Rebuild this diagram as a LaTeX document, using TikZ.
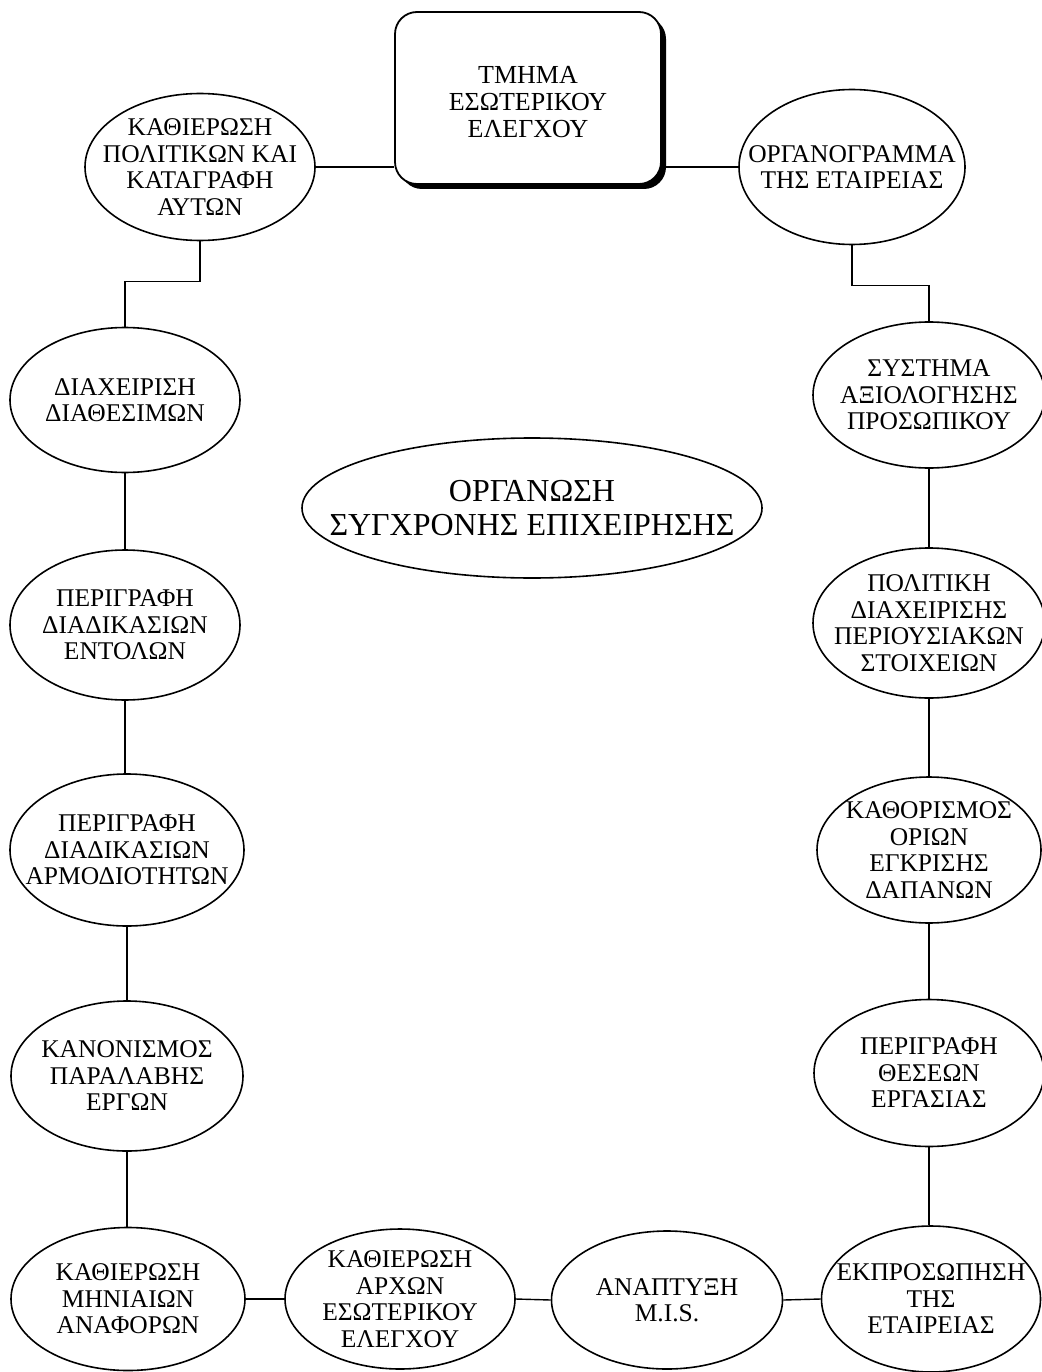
\documentclass[tikz,border=0pt]{standalone}
\usepackage{fontspec}
\setmainfont{Liberation Serif}
\usetikzlibrary{shapes.geometric}
\begin{document}
\begin{tikzpicture}[x=1pt,y=-1pt,
  oval/.style={ellipse, draw, line width=1.6pt, inner sep=-100pt, align=center,
    font=\fontsize{25.5}{26.5}\selectfont},
  link/.style={line width=1.4pt},
  boxtext/.style={align=center, font=\fontsize{26}{27}\selectfont},
  topbox/.style={rectangle, rounded corners=22pt, draw, line width=1.8pt, fill=white,
    minimum width=266pt, minimum height=172pt, inner sep=0pt}]
\fill[white] (0,0) rectangle (1041,1372);
\useasboundingbox (0,0) rectangle (1041,1372);

% shadow of the top box
\fill[black, rounded corners=22pt] (400,17) rectangle (666,189);
\node[topbox, label={[boxtext, yshift=-4pt]center:ΤΜΗΜΑ\\ΕΣΩΤΕΡΙΚΟΥ\\ΕΛΕΓΧΟΥ}] (box) at (528,98) {};

% left column
\node[oval, minimum width=230pt, minimum height=147pt] (e1) at (200,167) {ΚΑΘΙΕΡΩΣΗ\\ΠΟΛΙΤΙΚΩΝ ΚΑΙ\\ΚΑΤΑΓΡΑΦΗ\\ΑΥΤΩΝ};
\node[oval, minimum width=230pt, minimum height=145pt] (e3) at (125,400) {ΔΙΑΧΕΙΡΙΣΗ\\ΔΙΑΘΕΣΙΜΩΝ};
\node[oval, minimum width=230pt, minimum height=150pt] (e4) at (125,625) {ΠΕΡΙΓΡΑΦΗ\\ΔΙΑΔΙΚΑΣΙΩΝ\\ΕΝΤΟΛΩΝ};
\node[oval, minimum width=234pt, minimum height=152pt] (e5) at (127,850) {ΠΕΡΙΓΡΑΦΗ\\ΔΙΑΔΙΚΑΣΙΩΝ\\ΑΡΜΟΔΙΟΤΗΤΩΝ};
\node[oval, minimum width=232pt, minimum height=150pt] (e6) at (127,1076) {ΚΑΝΟΝΙΣΜΟΣ\\ΠΑΡΑΛΑΒΗΣ\\ΕΡΓΩΝ};
\node[oval, minimum width=234pt, minimum height=143pt] (e7) at (128,1299) {ΚΑΘΙΕΡΩΣΗ\\ΜΗΝΙΑΙΩΝ\\ΑΝΑΦΟΡΩΝ};

% bottom row
\node[oval, minimum width=230pt, minimum height=140pt] (e8) at (400,1299) {ΚΑΘΙΕΡΩΣΗ\\ΑΡΧΩΝ\\ΕΣΩΤΕΡΙΚΟΥ\\ΕΛΕΓΧΟΥ};
\node[oval, minimum width=231pt, minimum height=138pt] (e9) at (667,1300) {ΑΝΑΠΤΥΞΗ\\M.I.S.};
\node[oval, minimum width=219pt, minimum height=146pt] (e10) at (931,1299) {ΕΚΠΡΟΣΩΠΗΣΗ\\ΤΗΣ\\ΕΤΑΙΡΕΙΑΣ};

% right column
\node[oval, minimum width=226pt, minimum height=155pt] (e2) at (852,167) {ΟΡΓΑΝΟΓΡΑΜΜΑ\\ΤΗΣ ΕΤΑΙΡΕΙΑΣ};
\node[oval, minimum width=232pt, minimum height=146pt] (e11) at (929,395) {ΣΥΣΤΗΜΑ\\ΑΞΙΟΛΟΓΗΣΗΣ\\ΠΡΟΣΩΠΙΚΟΥ};
\node[oval, minimum width=232pt, minimum height=150pt] (e12) at (929,623) {ΠΟΛΙΤΙΚΗ\\ΔΙΑΧΕΙΡΙΣΗΣ\\ΠΕΡΙΟΥΣΙΑΚΩΝ\\ΣΤΟΙΧΕΙΩΝ};
\node[oval, minimum width=224pt, minimum height=146pt] (e13) at (929,850) {ΚΑΘΟΡΙΣΜΟΣ\\ΟΡΙΩΝ\\ΕΓΚΡΙΣΗΣ\\ΔΑΠΑΝΩΝ};
\node[oval, minimum width=230pt, minimum height=147pt] (e14) at (929,1073) {ΠΕΡΙΓΡΑΦΗ\\ΘΕΣΕΩΝ\\ΕΡΓΑΣΙΑΣ};

% centre
\node[oval, minimum width=460pt, minimum height=140pt, font=\fontsize{32}{34}\selectfont] (c) at (532,508) {\raisebox{-3pt}{ΟΡΓΑΝΩΣΗ}\\\raisebox{-3pt}{ΣΥΓΧΡΟΝΗΣ ΕΠΙΧΕΙΡΗΣΗΣ}};

% connectors
\draw[link] (e1.east) -- (box.west |- e1.east);
\draw[link] (box.east |- e2.west) -- (e2.west);
\draw[link] (e1.south) -- ++(0,40) -| (e3.north);
\draw[link] (e2.south) -- ++(0,40) -| (e11.north);
\draw[link] (e3.south) -- (e4.north);
\draw[link] (e4.south) -- (e4.south |- e5.north);
\draw[link] (e5.south) -- (e5.south |- e6.north);
\draw[link] (e6.south) -- (e6.south |- e7.north);
\draw[link] (e7.east) -- (e8.west);
\draw[link] (e8.east) -- (e9.west);
\draw[link] (e9.east) -- (e10.west);
\draw[link] (e11.south) -- (e12.north);
\draw[link] (e12.south) -- (e13.north);
\draw[link] (e13.south) -- (e14.north);
\draw[link] (e14.south) -- (e14.south |- e10.north);
\end{tikzpicture}
\end{document}
